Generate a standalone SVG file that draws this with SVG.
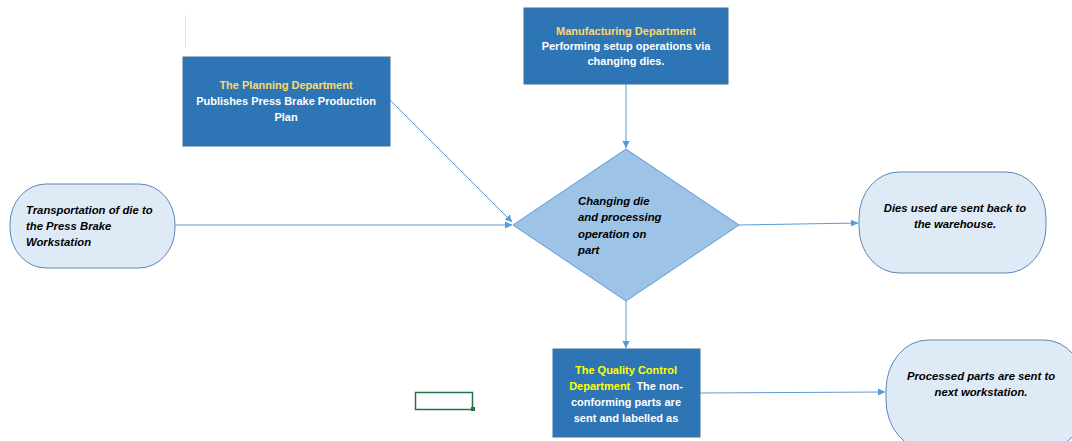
<svg xmlns="http://www.w3.org/2000/svg" width="1072" height="441" viewBox="0 0 1072 441">
<style>
.dept{fill:#2E75B6;stroke:#41719C;stroke-width:1}
.term{fill:#DEEBF7;stroke:#5B87B5;stroke-width:1}
.dia{fill:#9DC3E6;stroke:#5B9BD5;stroke-width:1}
.w{font-family:"Liberation Sans",Arial,sans-serif;font-weight:bold;font-size:11px;fill:#FFFFFF}
.y{fill:#FFD966}
.yy{fill:#FFFF00}
.b{font-family:"Liberation Sans",Arial,sans-serif;font-weight:bold;font-style:italic;font-size:11.3px;fill:#000000}
.con{stroke:#5B9BD5;stroke-width:1;fill:none;marker-end:url(#ah)}
</style>
<defs>
<marker id="ah" markerWidth="8" markerHeight="8" refX="7" refY="4" orient="auto" markerUnits="userSpaceOnUse">
<path d="M0,0.5 L7.5,4 L0,7.5 Z" fill="#5B9BD5"/>
</marker>
</defs>
<rect width="1072" height="441" fill="#FFFFFF"/>
<line x1="185.5" y1="15" x2="185.5" y2="48" stroke="#DCE3EC" stroke-width="1"/>
<g id="connectors">
<line class="con" x1="390" y1="100" x2="512" y2="222"/>
<line class="con" x1="175" y1="225" x2="512" y2="225"/>
<line class="con" x1="626" y1="84" x2="626" y2="148"/>
<line class="con" x1="739" y1="225" x2="858" y2="223"/>
<line class="con" x1="626" y1="301" x2="626" y2="348"/>
<line class="con" x1="700" y1="393" x2="885" y2="392"/>
</g>
<g id="planning">
<rect class="dept" x="183" y="57" width="207" height="89"/>
<text class="w" text-anchor="middle"><tspan class="y" x="286" y="89">The Planning Department</tspan><tspan x="286" y="105">Publishes Press Brake Production</tspan><tspan x="286" y="121">Plan</tspan></text>
</g>
<g id="manufacturing">
<rect class="dept" x="524" y="8" width="204" height="76"/>
<text class="w" text-anchor="middle"><tspan class="y" x="626" y="35">Manufacturing Department</tspan><tspan x="626" y="50">Performing setup operations via</tspan><tspan x="626" y="65">changing dies.</tspan></text>
</g>
<g id="transport">
<rect class="term" x="10" y="184" width="165" height="84" rx="36" ry="40"/>
<text class="b"><tspan x="26" y="214">Transportation of die to</tspan><tspan x="26" y="230">the Press Brake</tspan><tspan x="26" y="246">Workstation</tspan></text>
</g>
<g id="decision">
<polygon class="dia" points="626,149 739,225 626,301 513,225"/>
<text class="b"><tspan x="578" y="205">Changing die</tspan><tspan x="578" y="221">and processing</tspan><tspan x="578" y="238">operation on</tspan><tspan x="578" y="254">part</tspan></text>
</g>
<g id="dies">
<rect class="term" x="859" y="172" width="187" height="101" rx="40" ry="46"/>
<text class="b" text-anchor="middle"><tspan x="955" y="212">Dies used are sent back to</tspan><tspan x="955" y="228">the warehouse.</tspan></text>
</g>
<g id="quality">
<rect class="dept" x="553" y="349" width="147" height="88"/>
<text class="w" text-anchor="middle"><tspan class="yy" x="626" y="374">The Quality Control</tspan><tspan x="626" y="390"><tspan class="yy">Department</tspan>&#160; The non-</tspan><tspan x="626" y="406">conforming parts are</tspan><tspan x="626" y="422">sent and labelled as</tspan></text>
</g>
<g id="processed">
<rect class="term" x="886" y="340" width="200" height="110" rx="42" ry="50"/>
<text class="b" text-anchor="middle"><tspan x="981" y="380">Processed parts are sent to</tspan><tspan x="981" y="396">next workstation.</tspan></text>
</g>
<g id="cell">
<rect x="415.5" y="392.5" width="57" height="17" fill="none" stroke="#217346" stroke-width="1.5"/>
<rect x="471" y="407" width="4" height="4" fill="#217346"/>
</g>
</svg>
